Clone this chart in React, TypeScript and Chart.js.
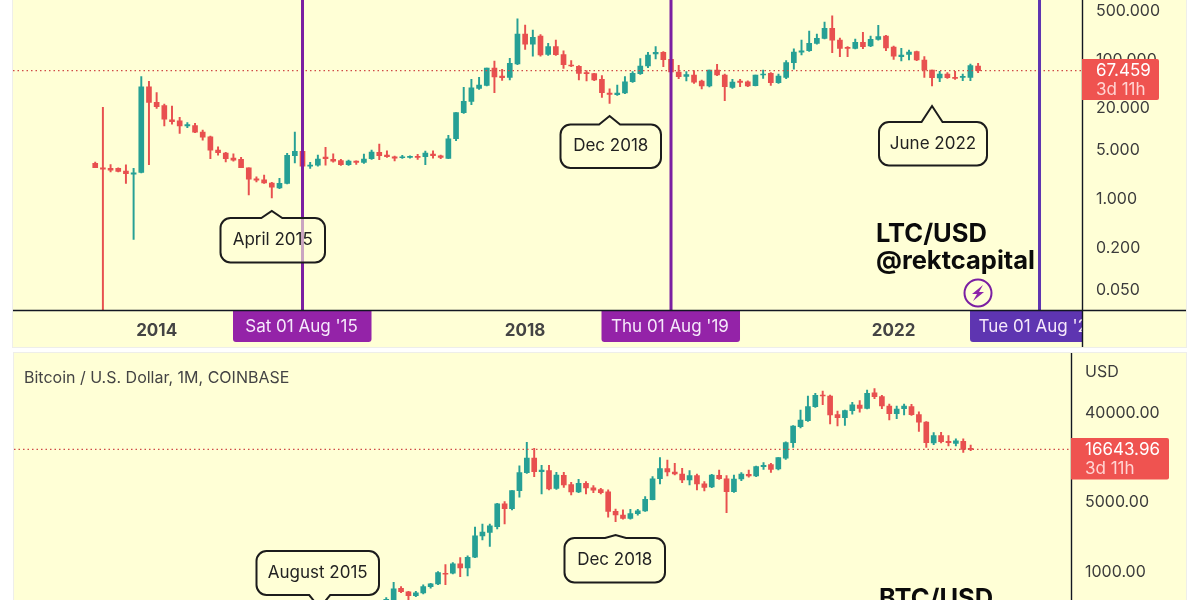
import { useEffect, useRef } from "react";
import { Chart, registerables } from "chart.js";
Chart.register(...registerables);

// months are counted from Jan 2013
const ltcFirstMonth = 4;
const ltcOpen = [
  3.14, 2.72, 2.66, 2.66, 2.43, 2.2, 2.33, 39.6, 23.6, 21.3,
  13.2, 12.8, 10.8, 11.0, 8.85, 7.58, 4.88, 4.42, 3.74, 3.58,
  2.72, 1.89, 1.83, 1.64, 1.4, 1.62, 4.04, 4.67, 2.87, 2.97,
  3.87, 3.58, 3.46, 3.0, 3.39, 3.24, 3.66, 4.52, 4.13, 3.91,
  3.78, 3.83, 3.95, 3.91, 4.27, 4.04, 3.7, 7.09, 16.8, 24.4,
  37.5, 41.5, 73.5, 56.4, 54.0, 83.8, 226, 162, 212, 115,
  149, 115, 81, 77.6, 63, 60.9, 50.6, 32.2, 30.4, 32.2,
  46.6, 60.9, 78.5, 116.7, 123, 98, 64.4, 55.8, 58.3, 47.8,
  40.6, 68.8, 58.3, 38.7, 47.8, 46.6, 41, 58.3, 61.6, 45.1,
  54, 87.6, 124, 130, 166, 196, 272, 185, 146, 141,
  172, 152, 189, 212, 147, 107, 115, 126, 95.7, 68.8,
  52.8, 60.3, 54, 54, 54, 78.5,
];
const ltcHigh = [
  3.28, 20.0, 3.03, 2.72, 3.0, 2.66, 55.2, 47.3, 32.5, 22.3,
  20.9, 14.4, 12.1, 11.8, 9.45, 7.75, 5.45, 4.52, 4.32, 3.83,
  2.72, 2.02, 2.13, 1.68, 1.91, 4.37, 8.85, 4.67, 3.24, 4.13,
  5.33, 4.32, 3.58, 3.5, 3.42, 4.27, 4.88, 5.95, 4.77, 4.0,
  4.09, 4.04, 4.23, 4.72, 4.77, 4.13, 7.92, 16.9, 38.7, 50.6,
  54.0, 73.5, 92.6, 70.4, 101, 375, 305, 258, 221, 166,
  185, 130, 93.6, 79.4, 67.3, 61.6, 57.0, 37.0, 41.9, 55.2,
  65.1, 100, 123, 149, 126, 98, 80.3, 65.1, 67.3, 49.4,
  68.8, 83, 60.3, 50.6, 50.6, 48.3, 58.3, 68.8, 63, 60.3,
  93.6, 139, 185, 250, 226, 335, 414, 198, 149, 192,
  239, 212, 302, 216, 152, 141, 133, 129, 107, 68.8,
  65.8, 63, 66, 60.3, 83.8, 85.7,
];
const ltcLow = [
  2.72, 0.02, 2.36, 2.36, 1.62, 0.255, 2.3, 3.0, 19.3, 10.8,
  11.5, 8.46, 10.2, 8.66, 6.79, 3.66, 4.13, 3.31, 3.39, 2.72,
  1.11, 1.7, 1.62, 1.0, 1.36, 1.59, 3.2, 2.46, 2.66, 2.87,
  2.97, 3.28, 2.93, 2.93, 3.03, 3.14, 3.58, 3.54, 3.83, 3.42,
  3.7, 3.74, 3.58, 3.0, 3.74, 3.66, 3.66, 6.64, 16.4, 21.8,
  36.3, 40.6, 32.5, 48.9, 49.4, 82, 136, 109, 109, 111,
  111, 72.7, 76.8, 49.4, 47.8, 48.3, 27.9, 22.8, 29.8, 31.4,
  45.6, 59.6, 74.3, 99, 76.8, 60.3, 51.8, 47.8, 44.3, 36.7,
  39.2, 57, 24.9, 37.5, 39.6, 39.6, 40.6, 52.2, 41.5, 44.3,
  51.8, 71, 113, 127.5, 162, 192, 122, 107, 107, 138,
  139, 149, 185, 130, 98, 92.6, 95.7, 93.6, 54, 40.6,
  46.6, 52.2, 50.6, 48.3, 48.3, 63,
];
const ltcClose = [
  2.72, 2.6, 2.52, 2.41, 2.23, 2.3, 39.6, 23.6, 20.4, 13.5,
  12.5, 10.8, 11.3, 8.85, 7.5, 4.88, 4.47, 3.66, 3.5, 2.72,
  1.87, 1.81, 1.64, 1.43, 1.62, 4.09, 4.67, 2.87, 2.97, 3.62,
  3.66, 3.39, 3.0, 3.39, 3.24, 3.62, 4.57, 4.04, 3.91, 3.74,
  3.91, 3.95, 3.83, 4.42, 4.04, 3.83, 7.09, 16.9, 24.4, 38.3,
  41.9, 73.5, 54.6, 53.4, 85.7, 226, 162, 202, 113, 149,
  114, 82, 78.5, 61.6, 60.9, 49.4, 32.5, 30.8, 32.2, 46.6,
  61.6, 78.5, 113, 123, 96.8, 64.4, 55.2, 59, 46.1, 40.6,
  68.8, 58.3, 39.6, 46.1, 45.6, 40.6, 58.3, 60.3, 45.1, 56.4,
  87.6, 124, 130, 166, 196, 272, 185, 141, 141, 172,
  149, 189, 207, 143, 109, 113, 124, 95.7, 68.8, 53.4,
  60.3, 53.4, 52.2, 55.2, 79.4, 67.459,
];

const btcFirstMonth = 40;
const btcOpen = [
  450, 511, 670, 617, 565, 601, 696, 740, 948, 948,
  1176, 1073, 1372, 2250, 2430, 2790, 4710, 4230, 6410, 9720,
  13650, 9950, 10180, 6760, 9130, 7370, 6220, 7600, 6850, 6560,
  6220, 3980, 3650, 3360, 3770, 4010, 5210, 8440, 10660, 9870,
  9420, 8200, 9060, 7490, 6980, 9130, 8440, 6260, 8390, 9340,
  9000, 11170, 11700, 10580, 13550, 19460, 28170, 32370, 44740, 58150,
  57300, 37200, 34650, 40800, 46400, 43050, 61800, 56400, 45400, 38050,
  42700, 44740, 37200, 31400, 19300, 22870, 20090, 19160, 20090, 16900,
];
const btcHigh = [
  539, 769, 696, 625, 625, 723, 752, 985, 1158, 1213,
  1362, 1415, 2750, 2960, 2960, 4780, 4970, 6410, 11350, 19600,
  17060, 11520, 11520, 9790, 9790, 7780, 8330, 7900, 7210, 6760,
  6510, 4190, 4100, 4160, 4160, 5580, 8860, 13750, 13030, 12060,
  10750, 10180, 9420, 7900, 9340, 10340, 9060, 9200, 9720, 10340,
  11340, 12250, 12060, 13750, 19770, 28820, 41420, 57300, 60900, 64300,
  58600, 40500, 41420, 49400, 51400, 65800, 68000, 58150, 47600, 45400,
  47600, 47200, 39700, 31640, 24520, 24700, 22870, 21300, 21300, 18400,
];
const btcLow = [
  435, 470, 606, 511, 552, 588, 670, 729, 729, 934,
  877, 891, 1362, 2050, 1760, 2640, 2960, 4100, 5500, 9570,
  8860, 5940, 6510, 6600, 6920, 5800, 6130, 5940, 6130, 5940,
  3460, 3130, 3310, 3310, 3640, 3950, 5170, 7490, 9000, 9200,
  7720, 7310, 6510, 6360, 6850, 8330, 3850, 6140, 8070, 8740,
  8860, 10500, 9790, 10340, 13230, 17470, 27300, 31870, 44050, 46800,
  29960, 28610, 29020, 37500, 39400, 42400, 53800, 42700, 32870, 33900,
  36900, 36600, 25300, 17470, 18600, 19300, 18000, 18000, 15480, 16200,
];
const btcClose = [
  519, 659, 620, 565, 601, 696, 740, 963, 926, 1176,
  1073, 1372, 2250, 2450, 2830, 4710, 4230, 6410, 9720, 13650,
  9950, 10340, 6660, 9200, 7310, 6220, 7600, 6810, 6460, 6130,
  3950, 3650, 3360, 3770, 4010, 5250, 8440, 10660, 9870, 9420,
  8200, 9060, 7490, 6920, 9200, 8440, 6260, 8390, 9420, 9000,
  11170, 11520, 10500, 13750, 19460, 28600, 32870, 44740, 58150, 57300,
  36900, 34650, 40800, 46800, 43050, 60900, 56400, 45400, 38050, 42400,
  45400, 37200, 31200, 19460, 22870, 19870, 19460, 20350, 16680, 16643.96,
];

const ltcTickValues = [500, 100, 20, 5, 1, 0.2, 0.05];
const ltcTickLabels = ["500.000", "100.000", "20.000", "5.000", "1.000", "0.200", "0.050"];
const btcTickValues = [40000, 5000, 1000];
const btcTickLabels = ["40000.00", "5000.00", "1000.00"];
const yearTickValues = [12, 60, 108];
const yearTickLabels = ["2014", "2018", "2022"];
const sessionMonths = [31, 79, 127];
const sessionLabels = ["Sat 01 Aug '15", "Thu 01 Aug '19", "Tue 01 Aug '23"];
const sessionColors = ["#9423a8", "#9423a8", "#5e35b1"];
const sessionLineColors = ["#7b1fa2", "#7b1fa2", "#5e35b1"];

const GREEN = "#26a095";
const RED = "#e8504f";
const PANEL = "#ffffd6";
const FONT = "Inter";

type Callout = {
  text: string;
  month: number;
  tipY: number;
  box: [number, number, number, number];
  tipDown?: boolean;
};

const ltcCallouts: Callout[] = [
  { text: "April 2015", month: 27, tipY: 211, box: [220.5, 218, 325, 262.5] },
  { text: "Dec 2018", month: 71, tipY: 116, box: [560.5, 124.5, 661, 168] },
  { text: "June 2022", month: 113, tipY: 106, box: [879, 122, 987, 165.5] },
];
const btcCallouts: Callout[] = [
  { text: "August 2015", month: 31, tipY: 608, box: [256.5, 551, 379, 595], tipDown: true },
  { text: "Dec 2018", month: 71, tipY: 535, box: [564.5, 538, 665, 582.5] },
];

const drawCallout = (ctx: CanvasRenderingContext2D, c: Callout, tipX: number) => {
  const [l, t, r, b] = c.box;
  const rad = 10;
  const half = 10.5;
  ctx.beginPath();
  ctx.moveTo(l + rad, t);
  if (!c.tipDown) {
    ctx.lineTo(tipX - half, t);
    ctx.lineTo(tipX, c.tipY);
    ctx.lineTo(tipX + half, t);
  }
  ctx.arcTo(r, t, r, b, rad);
  ctx.arcTo(r, b, l, b, rad);
  if (c.tipDown) {
    ctx.lineTo(tipX + half, b);
    ctx.lineTo(tipX, c.tipY);
    ctx.lineTo(tipX - half, b);
  }
  ctx.arcTo(l, b, l, t, rad);
  ctx.arcTo(l, t, r, t, rad);
  ctx.closePath();
  ctx.fillStyle = "rgba(255,255,214,0.6)";
  ctx.fill();
  ctx.strokeStyle = "#1c1c1c";
  ctx.lineWidth = 2;
  ctx.stroke();
  ctx.fillStyle = "#222";
  ctx.font = `17px ${FONT}`;
  ctx.textAlign = "center";
  ctx.textBaseline = "middle";
  ctx.fillText(c.text, (l + r) / 2, (t + b) / 2);
};

const drawPriceTag = (
  ctx: CanvasRenderingContext2D,
  left: number,
  right: number,
  top: number,
  bottom: number,
  price: string,
) => {
  ctx.fillStyle = "#ef5350";
  ctx.beginPath();
  ctx.roundRect(left, top, right - left, bottom - top, [0, 2, 2, 0]);
  ctx.fill();
  ctx.textAlign = "left";
  ctx.textBaseline = "middle";
  ctx.font = `17px ${FONT}`;
  ctx.fillStyle = "#fff";
  ctx.fillText(price, left + 14, top + 12);
  ctx.fillStyle = "#ffd5d3";
  ctx.fillText("3d 11h", left + 14, top + 31);
};

interface PanelProps {
  left: number;
  top: number;
  width: number;
  height: number;
  plotHeight: number;
  axisWidth: number;
  xMin: number;
  xMax: number;
  yMin: number;
  yMax: number;
  firstMonth: number;
  open: number[];
  high: number[];
  low: number[];
  close: number[];
  tickValues: number[];
  tickLabels: string[];
  lastPrice: number;
  lastLabel: string;
  tagBox: [number, number, number, number];
  callouts: Callout[];
  showYears?: boolean;
  overlay: (ctx: CanvasRenderingContext2D, xPixel: (m: number) => number) => void;
}

const CandlePanel = (p: PanelProps) => {
  const canvasRef = useRef<HTMLCanvasElement>(null);

  useEffect(() => {
    if (!canvasRef.current) return;
    const colors = p.open.map((o, i) => (p.close[i] >= o ? GREEN : RED));
    const chart = new Chart(canvasRef.current, {
      type: "bar",
      data: {
        datasets: [
          {
            data: p.open.map((o, i) => ({ x: p.firstMonth + i, y: [o, p.close[i]] })),
            backgroundColor: colors,
            barThickness: 5,
            minBarLength: 1,
            grouped: false,
          },
          {
            data: p.open.map((_, i) => ({ x: p.firstMonth + i, y: [p.low[i], p.high[i]] })),
            backgroundColor: colors,
            barThickness: 1.3,
            grouped: false,
          },
        ] as any,
      },
      options: {
        animation: false,
        responsive: false,
        layout: { padding: 0, autoPadding: false },
        plugins: { legend: { display: false }, tooltip: { enabled: false } },
        scales: {
          x: {
            type: "linear",
            display: !!p.showYears,
            min: p.xMin,
            max: p.xMax,
            bounds: "data",
            offset: false,
            grid: { display: false, drawTicks: false },
            border: { display: false },
            afterBuildTicks: (s: any) => {
              s.ticks = yearTickValues.map((value) => ({ value }));
            },
            afterFit: (s: any) => {
              s.height = p.height - p.plotHeight;
              s.paddingLeft = 0;
              s.paddingRight = 0;
            },
            ticks: {
              autoSkip: false,
              maxRotation: 0,
              padding: 10,
              color: "#444",
              font: { family: FONT, size: 17, weight: "bold" },
              callback: (v: any) => yearTickLabels[yearTickValues.indexOf(v)],
            },
          },
          y: {
            type: "logarithmic",
            position: "right",
            min: p.yMin,
            max: p.yMax,
            bounds: "data",
            grid: { display: false, drawTicks: false },
            border: { display: false },
            afterBuildTicks: (s: any) => {
              s.ticks = p.tickValues.map((value) => ({ value }));
            },
            afterFit: (s: any) => {
              s.width = p.axisWidth;
              s.paddingTop = 0;
              s.paddingBottom = 0;
            },
            ticks: {
              autoSkip: false,
              padding: 13.5,
              labelOffset: 1.3,
              color: "#3c3c3c",
              font: { family: FONT, size: 16 },
              callback: (v: any) => p.tickLabels[p.tickValues.indexOf(v)],
            },
          },
        },
      },
      plugins: [
        {
          id: "panelOverlay",
          afterDraw: (c: Chart) => {
            const ctx = c.ctx;
            const area = c.chartArea;
            const xs = c.scales.x;
            const ys = c.scales.y;
            const xPixel = (m: number) => xs.getPixelForValue(m) + p.left;
            ctx.save();
            ctx.translate(-p.left, -p.top);

            // last price line
            const lastY = ys.getPixelForValue(p.lastPrice) + p.top;
            ctx.strokeStyle = "#cf4a47";
            ctx.lineWidth = 1.2;
            ctx.setLineDash([1.5, 3]);
            ctx.beginPath();
            ctx.moveTo(p.left, lastY);
            ctx.lineTo(area.right + p.left, lastY);
            ctx.stroke();
            ctx.setLineDash([]);

            p.overlay(ctx, xPixel);
            p.callouts.forEach((co) => drawCallout(ctx, co, xPixel(co.month)));

            // axis lines
            ctx.strokeStyle = "#131722";
            ctx.lineWidth = 1.4;
            ctx.beginPath();
            ctx.moveTo(area.right + p.left, p.top);
            ctx.lineTo(area.right + p.left, p.top + p.height);
            if (p.showYears) {
              ctx.moveTo(p.left, area.bottom + p.top);
              ctx.lineTo(p.left + p.width, area.bottom + p.top);
            }
            ctx.stroke();

            const [tl, tr, tt, tb] = p.tagBox;
            drawPriceTag(ctx, tl, tr, tt, tb, p.lastLabel);
            ctx.restore();
          },
        },
      ],
    } as any);

    return () => {
      chart.destroy();
    };
  }, []);

  return (
    <canvas
      ref={canvasRef}
      width={p.width}
      height={p.height}
      style={{
        position: "absolute",
        left: p.left,
        top: p.top,
        width: p.width,
        height: p.height,
        background: PANEL,
        outline: "1px solid #eeeeea",
      }}
    />
  );
};

const ltcOverlay = (ctx: CanvasRenderingContext2D, xPixel: (m: number) => number) => {
  sessionMonths.forEach((m, i) => {
    const x = xPixel(m);
    ctx.strokeStyle = sessionLineColors[i];
    ctx.lineWidth = 3;
    ctx.beginPath();
    ctx.moveTo(x, 0);
    ctx.lineTo(x, 310);
    ctx.stroke();
  });

  // title and logo
  ctx.fillStyle = "#0b0b0b";
  ctx.font = `bold 25.5px ${FONT}`;
  ctx.textAlign = "left";
  ctx.textBaseline = "middle";
  ctx.fillText("LTC/USD", 876, 234);
  ctx.fillText("@rektcapital", 876, 261);
  ctx.strokeStyle = "#7b1fa2";
  ctx.lineWidth = 2;
  ctx.beginPath();
  ctx.arc(978, 293, 13.5, 0, Math.PI * 2);
  ctx.stroke();
  ctx.fillStyle = "#8e24aa";
  ctx.beginPath();
  ctx.moveTo(983, 285);
  ctx.lineTo(972, 294);
  ctx.lineTo(977, 294);
  ctx.lineTo(973, 301);
  ctx.lineTo(984, 292);
  ctx.lineTo(979, 292);
  ctx.closePath();
  ctx.fill();

  // session labels on the time axis
  sessionMonths.forEach((m, i) => {
    const x = xPixel(m);
    ctx.save();
    ctx.beginPath();
    ctx.rect(13, 310, 1069.5, 40);
    ctx.clip();
    ctx.fillStyle = sessionColors[i];
    ctx.beginPath();
    ctx.roundRect(x - 69.5, 310.5, 138.5, 31.5, [0, 0, 3, 3]);
    ctx.fill();
    ctx.fillStyle = "#f6e9fb";
    ctx.font = `17px ${FONT}`;
    ctx.textAlign = "center";
    ctx.textBaseline = "middle";
    ctx.fillText(sessionLabels[i], x - 1, 327);
    ctx.restore();
  });
};

const btcOverlay = (ctx: CanvasRenderingContext2D) => {
  ctx.fillStyle = "#444";
  ctx.font = `16px ${FONT}`;
  ctx.textAlign = "left";
  ctx.textBaseline = "middle";
  ctx.fillText("Bitcoin / U.S. Dollar, 1M, COINBASE", 24, 378);
  ctx.fillStyle = "#3c3c3c";
  ctx.font = `16px ${FONT}`;
  ctx.fillText("USD", 1085, 372);
  ctx.fillStyle = "#0b0b0b";
  ctx.font = `bold 25.5px ${FONT}`;
  ctx.fillText("BTC/USD", 879, 599);
};

export default function App() {
  return (
    <div style={{ position: "fixed", left: 0, top: 0, width: 1200, height: 600, background: "#fff", overflow: "hidden" }}>
      <CandlePanel
        left={13}
        top={0}
        width={1173}
        height={347}
        plotHeight={310.5}
        axisWidth={103.5}
        xMin={-6.71}
        xMax={132.6}
        yMin={0.02427}
        yMax={696}
        firstMonth={ltcFirstMonth}
        open={ltcOpen}
        high={ltcHigh}
        low={ltcLow}
        close={ltcClose}
        tickValues={ltcTickValues}
        tickLabels={ltcTickLabels}
        lastPrice={67.459}
        lastLabel="67.459"
        tagBox={[1082, 1159, 59, 100]}
        callouts={ltcCallouts}
        showYears
        overlay={ltcOverlay}
      />
      <CandlePanel
        left={14}
        top={353}
        width={1172}
        height={247}
        plotHeight={247}
        axisWidth={114.5}
        xMin={-10.32}
        xMax={132.63}
        yMin={510}
        yMax={154900}
        firstMonth={btcFirstMonth}
        open={btcOpen}
        high={btcHigh}
        low={btcLow}
        close={btcClose}
        tickValues={btcTickValues}
        tickLabels={btcTickLabels}
        lastPrice={16643.96}
        lastLabel="16643.96"
        tagBox={[1071, 1169, 438, 479.5]}
        callouts={btcCallouts}
        overlay={btcOverlay}
      />
    </div>
  );
}
